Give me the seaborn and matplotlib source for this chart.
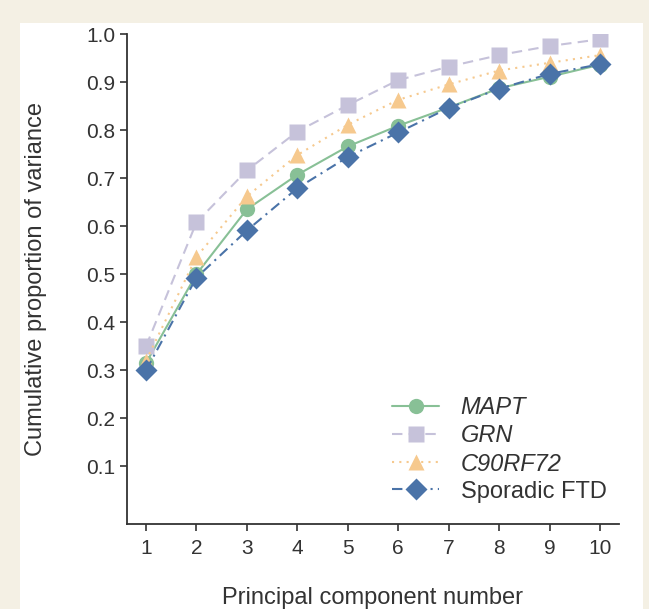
"""
Cumulative proportion of variance by principal component
"""

import matplotlib.pyplot as plt
import numpy as np
import pandas as pd
import seaborn as sns
from matplotlib.patches import Rectangle

components = list(range(1, 11))
mapt = [0.315, 0.50, 0.635, 0.707, 0.766, 0.809, 0.847, 0.887, 0.911, 0.936]
grn = [0.35, 0.608, 0.716, 0.797, 0.852, 0.904, 0.932, 0.956, 0.975, 0.989]
c9orf72 = [0.32, 0.536, 0.662, 0.748, 0.811, 0.863, 0.895, 0.924, 0.940, 0.956]
sporadic = [0.30, 0.493, 0.591, 0.679, 0.744, 0.795, 0.846, 0.886, 0.917, 0.937]

groups = ["MAPT", "GRN", "C90RF72", "Sporadic FTD"]
yticks = [0.1, 0.2, 0.3, 0.4, 0.5, 0.6, 0.7, 0.8, 0.9, 1.0]

df = pd.DataFrame({
    "pc": components * 4,
    "value": mapt + grn + c9orf72 + sporadic,
    "group": np.repeat(groups, len(components)),
})

palette = {"MAPT": "#88c096", "GRN": "#c6c2da", "C90RF72": "#f6c98e", "Sporadic FTD": "#4a73a8"}
markers = {"MAPT": "o", "GRN": "s", "C90RF72": "^", "Sporadic FTD": "D"}
dashes = {"MAPT": "", "GRN": (5, 3), "C90RF72": (1, 2.5), "Sporadic FTD": (5, 2.5, 1, 2.5)}

sns.set_style("ticks")
plt.rcParams["font.family"] = ["Liberation Sans", "DejaVu Sans"]

fig = plt.figure(figsize=(6.49, 6.09), dpi=100)
fig.patch.set_facecolor("#f4f0e4")

# white panel behind the chart
fig.add_artist(Rectangle((20 / 649, 0), 623 / 649, 586 / 609, transform=fig.transFigure,
                         facecolor="white", edgecolor="none", zorder=-5))

ax = fig.add_axes([127 / 649, 85 / 609, 492 / 649, 490 / 609])
ax.set_facecolor("none")

sns.lineplot(data=df, x="pc", y="value", hue="group", style="group", palette=palette,
             markers=markers, dashes=dashes, markersize=11, markeredgecolor="none",
             linewidth=1.5, ax=ax, legend=True)

ax.set_xlim(0.623, 10.377)
ax.set_ylim(-0.02, 1.0)
ax.set_xticks(components)
ax.set_yticks(yticks)
ax.set_yticklabels([f"{t:.1f}" for t in yticks])
ax.tick_params(labelsize=15, colors="#333333", length=5, width=1.2)
ax.tick_params(axis="x", pad=6)
for side in ["left", "bottom"]:
    ax.spines[side].set_color("#333333")
    ax.spines[side].set_linewidth(1.3)
sns.despine(ax=ax)

ax.set_xlabel("Principal component number", fontsize=17, color="#333333", labelpad=21)
ax.set_ylabel("Cumulative proportion of variance", fontsize=17, color="#333333", labelpad=28)

leg = ax.legend(loc="lower right", bbox_to_anchor=(1.018, 0.0), frameon=False, fontsize=17,
                handlelength=2.0, labelspacing=0.22, handletextpad=0.9)
for text in leg.get_texts():
    text.set_color("#333333")
    if text.get_text() != "Sporadic FTD":
        text.set_style("italic")

fig.savefig("out.png", dpi=100, facecolor=fig.get_facecolor())
